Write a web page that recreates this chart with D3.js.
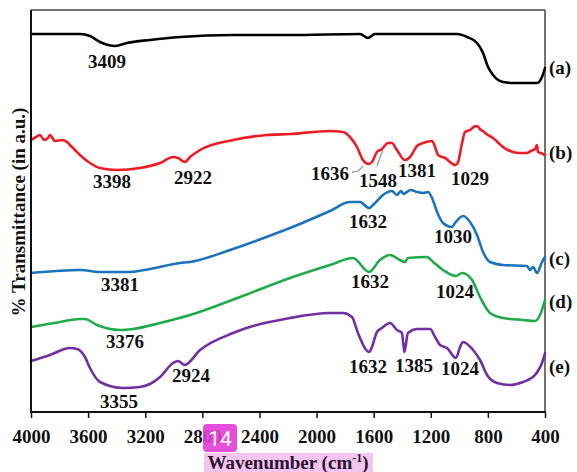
<!DOCTYPE html>
<html><head><meta charset="utf-8">
<script src="https://cdn.jsdelivr.net/npm/d3@7"></script>
<style>
html,body{margin:0;padding:0;background:#fff;}
svg{display:block;}
text{font-family:"Liberation Serif","Times New Roman",serif;font-weight:bold;}
</style>
</head><body>
<svg id="chart" width="577" height="472"></svg>
<script>
// ---- data (wavenumber in cm^-1, transmittance in arbitrary units) ----
const wavenumberTicks = [4000,3600,3200,2800,2400,2000,1600,1200,800,400];
const seriesNames = ["(a)","(b)","(c)","(d)","(e)"];
const seriesColors = ["#000000","#ee1c24","#1b72bd","#1faa4b","#7030a0"];

const wnA = [4000,3657,3587,3517,3409,3328,3167,2956,2585,2186,1696,1640,1591,1016,946,876,834,799,764,694,624,456,421,400];
const tA  = [378,378,376,370,366,369,372,375,377,377,378,374,378,378,375,369,359,345,337,330,329,329,335,344];

const wnB = [4000,3965,3937,3909,3881,3867,3832,3783,3748,3727,3657,3587,3517,3398,3237,3096,3005,2970,2922,2886,2816,2585,2347,2186,1906,1815,1766,1717,1675,1636,1612,1577,1542,1500,1472,1437,1381,1345,1296,1254,1191,1170,1149,1100,1029,1009,981,960,925,900,876,850,834,810,764,740,694,660,624,580,526,500,470,456,449,430,400];
const tB  = [272,275,277,272,274,277,271,272,270,267,257,249,244,242,244,249,255,254,250,255,262,272,277,278,281,280,275,265,252,248,250,260,263,269,269,262,252,255,266,269,271,265,257,254,247,250,269,280,282,285,286,282,281,278,274,271,265,262,260,259,259,261,263,267,260,259,257];

const wnC = [4000,3657,3517,3307,3167,2956,2886,2606,2277,2186,1906,1766,1696,1632,1591,1535,1472,1437,1410,1390,1367,1340,1296,1254,1219,1191,1156,1114,1051,1030,974,925,876,834,785,694,526,505,484,456,421,400];
const tC  = [139,142,140,140,143,149,150,162,179,184,201,210,210,204,209,217,221,217,221,218,220,222,220,219,220,214,200,189,185,189,196,190,177,160,150,147,146,142,145,139,150,155];

const wnD = [4000,3797,3657,3622,3538,3376,3286,3096,2886,2536,2186,1906,1745,1632,1556,1486,1416,1380,1360,1226,1184,1114,1024,981,911,855,785,694,554,470,435,400];
const tD  = [85,90,93,93,87,82,83,89,97,115,134,147,154,140,152,157,152,150,154,155,150,142,136,139,132,115,99,94,92,91,97,112];

const wnE = [4000,3867,3727,3678,3622,3587,3517,3355,3237,3167,3096,3005,2970,2924,2816,2585,2186,1906,1815,1752,1710,1632,1612,1577,1542,1486,1437,1402,1385,1360,1296,1205,1170,1135,1086,1024,995,974,904,855,806,736,645,554,470,414,400];
const tE  = [51,57,64,63,55,44,30,24,25,28,35,49,51,47,62,79,94,99,99,95,79,60,65,80,84,89,82,79,60,79,83,83,75,67,64,54,65,70,62,52,37,29,27,30,37,52,59];

const peakText = ["3409","3398","2922","1636","1548","1381","1029","1632","1030","3381","1632","1024","3376","2924","3355","1632","1385","1024"];
const peakWn   = [3468,3433,2865,1906,1570,1296,925,1640,1044,3377,1626,1030,3342,2879,3384,1640,1317,995];
const peakT    = [344,224,228,232,225,235,227,184,169,121,124,114,64,30,4,39,40,37];

const seriesLabelT = [338,253,147,104,39];

const leader1 = [[1752,240],[1710,240],[1675,246]];
const leader2 = [[1577,246],[1535,262]];

// ---- drawing ----
const svg = d3.select("#chart");
const x = d3.scaleLinear().domain([4000,400]).range([31,545]);
const y = d3.scaleLinear().domain([0,402]).range([412,10]);

const series = [[wnA,tA],[wnB,tB],[wnC,tC],[wnD,tD],[wnE,tE]].map((s,i)=>({
  name: seriesNames[i], color: seriesColors[i],
  pts: s[0].map((w,j)=>[w, s[1][j]])
}));

const line = d3.line().x(d=>x(d[0])).y(d=>y(d[1])).curve(d3.curveMonotoneX);

// box
svg.append("line").attr("x1",x(4000)).attr("x2",x(400)).attr("y1",y(402)).attr("y2",y(402)).attr("stroke","#444").attr("stroke-width",1.5);
svg.append("line").attr("x1",x(400)).attr("x2",x(400)).attr("y1",y(402)).attr("y2",y(0)).attr("stroke","#444").attr("stroke-width",1.5);

svg.append("g").selectAll("path").data(series).join("path")
  .attr("d", d=>line(d.pts.slice().sort((a,b)=>b[0]-a[0])))
  .attr("fill","none").attr("stroke",d=>d.color).attr("stroke-width",2.6)
  .attr("stroke-linejoin","round").attr("stroke-linecap","round");

svg.append("line").attr("x1",x(4000)).attr("x2",x(4000)).attr("y1",y(402)).attr("y2",y(0)).attr("stroke","#111").attr("stroke-width",2);
svg.append("line").attr("x1",x(4000)-1).attr("x2",x(400)+1).attr("y1",y(0)).attr("y2",y(0)).attr("stroke","#111").attr("stroke-width",2);

// x axis
const xAxis = svg.append("g").attr("transform",`translate(0,${y(0)})`)
  .call(d3.axisBottom(x).tickValues(wavenumberTicks).tickSize(6).tickFormat(d3.format("d")));
xAxis.select(".domain").remove();
xAxis.selectAll(".tick line").attr("stroke","#111").attr("stroke-width",1.5);
xAxis.selectAll(".tick text").attr("y",31).attr("dy",0).attr("fill","#111")
  .style("font-size","19px").style("font-family","'Liberation Serif',serif").style("font-weight","bold");

// leaders
const leaderLine = d3.line().x(d=>x(d[0])).y(d=>y(d[1])).curve(d3.curveBasis);
[leader1,leader2].forEach(L=>{
  svg.append("path").attr("d",leaderLine(L)).attr("fill","none").attr("stroke","#999").attr("stroke-width",1.3);
});

// peak labels
svg.append("g").selectAll("text").data(peakText).join("text")
  .attr("x",(d,i)=>x(peakWn[i])).attr("y",(d,i)=>y(peakT[i]))
  .attr("text-anchor","middle").attr("fill","#111").style("font-size","19px")
  .text(d=>d);

// series labels
svg.append("g").selectAll("text").data(seriesNames).join("text")
  .attr("x",x(400)+4).attr("y",(d,i)=>y(seriesLabelT[i]))
  .attr("fill","#111").style("font-size","19px").text(d=>d);

// y title
svg.append("text").attr("transform","translate(25,212) rotate(-90)")
  .attr("text-anchor","middle").attr("fill","#111").style("font-size","19px")
  .text("% Transmittance (in a.u.)");

// x title with highlight
svg.append("rect").attr("x",204).attr("y",453).attr("width",169).attr("height",19).attr("fill","#f4c6ef");
const xt = svg.append("text").attr("x",288).attr("y",469).attr("text-anchor","middle")
  .attr("fill","#2b1430").style("font-size","19px");
xt.append("tspan").text("Wavenumber (cm");
xt.append("tspan").attr("dy",-7).style("font-size","12px").text("-1");
xt.append("tspan").attr("dy",7).text(")");

// badge
svg.append("rect").attr("x",203).attr("y",424).attr("width",34).attr("height",28).attr("rx",4)
  .attr("fill","#e13cd6").attr("opacity",0.9);
svg.append("text").attr("x",220).attr("y",446).attr("text-anchor","middle")
  .attr("fill","#fff").style("font-family","Roboto,'DejaVu Sans',sans-serif").style("font-weight","normal")
  .style("font-size","21px").text("14");
</script>
</body></html>
